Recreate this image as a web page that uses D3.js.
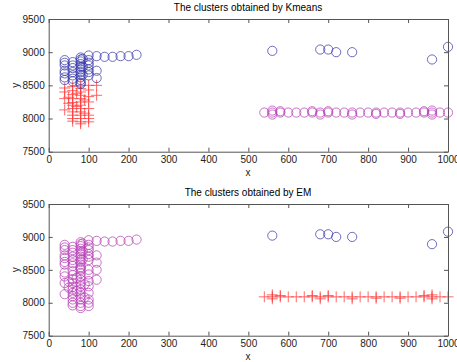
<!DOCTYPE html>
<html>
<head>
<meta charset="utf-8">
<script src="https://cdn.jsdelivr.net/npm/d3@7"></script>
<style>
  body { margin: 0; background: #fff; }
  svg { font-family: Arial, "Liberation Sans", sans-serif; }
</style>
</head>
<body>
<svg id="chart" width="457" height="362"></svg>
<script>
// same data in both panels, only the cluster labels change
const xTicks = [0, 100, 200, 300, 400, 500, 600, 700, 800, 900, 1000];
const yTicks = [7500, 8000, 8500, 9000, 9500];

// left block, upper part
const leftUpper = [
  [40, 8880], [40, 8840], [40, 8800], [40, 8720], [40, 8680], [40, 8620], [40, 8580],
  [60, 8850], [60, 8800], [60, 8760], [60, 8700], [60, 8650], [60, 8600], [60, 8560],
  [80, 8920], [80, 8890], [80, 8860], [80, 8820], [80, 8780], [80, 8740], [80, 8700],
  [80, 8660], [80, 8620], [80, 8580], [80, 8540], [80, 8520],
  [85, 8900], [85, 8780], [85, 8660],
  [100, 8880], [100, 8840], [100, 8800], [100, 8740], [100, 8700], [100, 8650],
  [120, 8720], [120, 8610]
];
// left block, lower part
const leftLower = [
  [40, 8460], [40, 8400], [40, 8300], [40, 8130],
  [50, 8320], [50, 8230],
  [60, 8480], [60, 8420], [60, 8360], [60, 8300], [60, 8240], [60, 8200], [60, 8150],
  [60, 8100], [60, 8050], [60, 8000], [60, 7960],
  [70, 8380], [70, 8180],
  [80, 8500], [80, 8450], [80, 8400], [80, 8350], [80, 8300], [80, 8250], [80, 8200],
  [80, 8150], [80, 8100], [80, 8050], [80, 8000], [80, 7950], [80, 7920],
  [90, 8280], [90, 8080],
  [100, 8500], [100, 8430], [100, 8330], [100, 8250], [100, 8150], [100, 8050], [100, 8000], [100, 7950],
  [120, 8500], [120, 8350]
];
// row along the top of the left block
const topRow = [
  [100, 8950], [120, 8940], [140, 8930], [160, 8930], [180, 8940], [200, 8940], [220, 8960]
];
// long line on the right
const rightLine = [
  [540, 8090], [560, 8090], [580, 8090], [600, 8090], [620, 8090], [640, 8090], [660, 8090],
  [680, 8090], [700, 8090], [720, 8090], [740, 8090], [760, 8090], [780, 8090], [800, 8090],
  [820, 8090], [840, 8090], [860, 8090], [880, 8090], [900, 8090], [920, 8090], [940, 8090],
  [960, 8090], [980, 8090], [1000, 8090],
  [560, 8060], [560, 8120], [580, 8110], [660, 8110], [680, 8060], [700, 8110],
  [760, 8060], [820, 8070], [880, 8070], [940, 8110], [960, 8060], [960, 8120]
];
// scattered points top right
const sparse = [
  [560, 9020], [680, 9040], [700, 9040], [720, 9000], [760, 9000], [960, 8890], [1000, 9080]
];

const kmeansMarks = [
  { pts: leftLower, mark: "redPlus" },
  { pts: leftUpper, mark: "blueO" },
  { pts: topRow, mark: "blueO" },
  { pts: sparse, mark: "blueO" },
  { pts: rightLine, mark: "magentaO" }
];
const emMarks = [
  { pts: leftUpper, mark: "magentaO" },
  { pts: leftLower, mark: "magentaO" },
  { pts: topRow, mark: "magentaO" },
  { pts: sparse, mark: "blueO" },
  { pts: rightLine, mark: "redPlus" }
];

const colors = { blueO: "#3535a8", magentaO: "#b53cb5", redPlus: "#ff3a3a" };

const svg = d3.select("#chart");
svg.append("rect").attr("width", 457).attr("height", 362).attr("fill", "#fff");

function panel(top, bottom, title, groups) {
  let x = d3.scaleLinear().domain([0, 1000]).range([48.7, 448]);
  let y = d3.scaleLinear().domain([7500, 9500]).range([bottom, top]);

  let g = svg.append("g");

  g.append("text")
    .attr("x", 248).attr("y", top - 8)
    .attr("text-anchor", "middle")
    .attr("font-size", 10)
    .text(title);

  // markers
  groups.forEach(grp => {
    let c = colors[grp.mark];
    if (grp.mark == "redPlus") {
      let p = g.append("g").selectAll("g").data(grp.pts).enter().append("g")
        .attr("transform", d => `translate(${x(d[0])},${y(d[1])})`)
        .attr("stroke", c).attr("stroke-width", 0.9).attr("opacity", 0.85);
      p.append("line").attr("x1", -5.5).attr("x2", 5.5);
      p.append("line").attr("y1", -5.5).attr("y2", 5.5);
    } else {
      g.append("g").selectAll("circle").data(grp.pts).enter().append("circle")
        .attr("cx", d => x(d[0]))
        .attr("cy", d => y(d[1]))
        .attr("r", 4.6)
        .attr("fill", "none")
        .attr("stroke", c)
        .attr("stroke-width", 0.85)
        .attr("opacity", 0.85);
    }
  });

  // box + inward ticks
  let ax = g.append("g").attr("class", "axes");
  ax.append("g").attr("transform", `translate(0,${bottom})`)
    .call(d3.axisBottom(x).tickValues(xTicks).tickFormat(d3.format("d"))
      .tickSize(-4).tickSizeOuter(0).tickPadding(4));
  ax.append("g").attr("transform", `translate(0,${top})`)
    .call(d3.axisTop(x).tickValues(xTicks).tickSize(-4).tickSizeOuter(0).tickFormat(""));
  ax.append("g").attr("transform", `translate(48.7,0)`)
    .call(d3.axisLeft(y).tickValues(yTicks).tickFormat(d3.format("d"))
      .tickSize(-4).tickSizeOuter(0).tickPadding(4));
  ax.append("g").attr("transform", `translate(448,0)`)
    .call(d3.axisRight(y).tickValues(yTicks).tickSize(-4).tickSizeOuter(0).tickFormat(""));
  ax.selectAll("path, line").attr("stroke", "#555");
  ax.selectAll("text").attr("font-size", 10).attr("font-family", "Arial, 'Liberation Sans', sans-serif").attr("fill", "#222");

  g.append("text")
    .attr("x", 248).attr("y", bottom + 24)
    .attr("text-anchor", "middle")
    .attr("font-size", 10).attr("fill", "#222")
    .text("x");
  g.append("text")
    .attr("transform", `translate(19,${(top + bottom) / 2}) rotate(-90)`)
    .attr("text-anchor", "middle")
    .attr("font-size", 10).attr("fill", "#222")
    .text("y");
}

panel(19, 151.7, "The clusters obtained by Kmeans", kmeansMarks);
panel(204, 335.7, "The clusters obtained by EM", emMarks);
</script>
</body>
</html>
